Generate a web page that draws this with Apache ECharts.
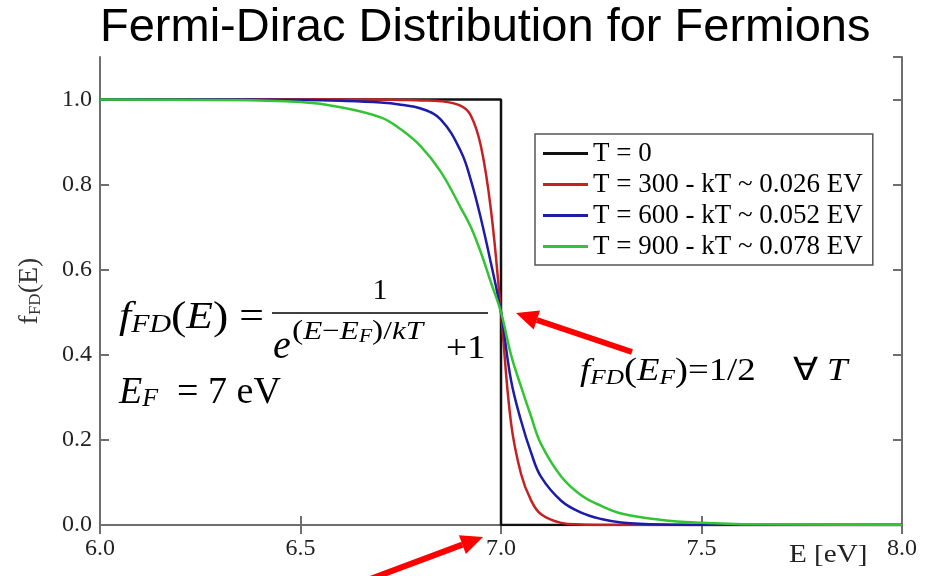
<!DOCTYPE html>
<html>
<head>
<meta charset="utf-8">
<script src="https://cdn.jsdelivr.net/npm/echarts@6/dist/echarts.min.js"></script>
<style>
  html, body { margin: 0; padding: 0; background: #fff; }
  #chart { width: 931px; height: 576px; }
</style>
</head>
<body>
<div id="chart"></div>
<script>
var energy = [6.0, 6.3, 6.5, 6.6, 6.7, 6.75, 6.8, 6.85, 6.9, 6.925, 6.95, 6.975, 7.0,
              7.025, 7.05, 7.075, 7.1, 7.15, 7.2, 7.25, 7.3, 7.4, 7.5, 7.6, 8.0];

var fT300 = [1, 1, 1, 1, 1, 0.999, 0.998, 0.996, 0.985, 0.962, 0.89, 0.74, 0.5,
             0.24, 0.12, 0.058, 0.025, 0.005, 0.001, 0, 0, 0, 0, 0, 0];
var fT600 = [1, 1, 0.999, 0.997, 0.993, 0.988, 0.979, 0.953, 0.878, 0.81, 0.72, 0.615, 0.5,
             0.34, 0.245, 0.17, 0.113, 0.057, 0.029, 0.014, 0.006, 0.001, 0, 0, 0];
var fT900 = [1, 0.999, 0.994, 0.982, 0.958, 0.93, 0.89, 0.83, 0.745, 0.7, 0.64, 0.57, 0.5,
             0.4, 0.325, 0.255, 0.19, 0.114, 0.07, 0.045, 0.027, 0.012, 0.005, 0.002, 0];

// T = 0 step
var stepE = [6.0, 7.0, 7.0, 8.0];
var stepF = [1, 1, 0, 0];

var seriesNames = ['T = 0', 'T = 300 - kT ~ 0.026 EV', 'T = 600 - kT ~ 0.052 EV', 'T = 900 - kT ~ 0.078 EV'];
var seriesColors = ['#111111', '#c42222', '#1c1ca8', '#33c433'];

var SERIF = 'Liberation Serif';

function pairs(xs, ys) {
  return xs.map(function (x, i) { return [x, ys[i]]; });
}

function arrow(tail, tip) {
  var dx = tip[0] - tail[0], dy = tip[1] - tail[1];
  var len = Math.sqrt(dx * dx + dy * dy);
  var ux = dx / len, uy = dy / len;
  var head = 22, half = 10;
  var bx = tip[0] - ux * head, by = tip[1] - uy * head;
  return [
    { type: 'line', shape: { x1: tail[0], y1: tail[1], x2: bx, y2: by },
      style: { stroke: '#ff0000', lineWidth: 6 }, z: 100 },
    { type: 'polygon',
      shape: { points: [tip, [bx - uy * half, by + ux * half], [bx + uy * half, by - ux * half]] },
      style: { fill: '#ff0000' }, z: 100 }
  ];
}

var mathRich = {
  i: { fontFamily: SERIF, fontStyle: 'italic', fontSize: 38, color: '#000' },
  p: { fontFamily: SERIF, fontSize: 40, color: '#000' },
  n: { fontFamily: SERIF, fontSize: 38, color: '#000' },
  s: { fontFamily: SERIF, fontStyle: 'italic', fontSize: 26, color: '#000', verticalAlign: 'bottom' }
};
var supRich = {
  i: { fontFamily: SERIF, fontStyle: 'italic', fontSize: 26, color: '#000' },
  p: { fontFamily: SERIF, fontSize: 28, color: '#000' },
  n: { fontFamily: SERIF, fontSize: 26, color: '#000' },
  s: { fontFamily: SERIF, fontStyle: 'italic', fontSize: 18, color: '#000', verticalAlign: 'bottom' }
};
var eqRich = {
  i: { fontFamily: SERIF, fontStyle: 'italic', fontSize: 32, color: '#000' },
  p: { fontFamily: SERIF, fontSize: 34, color: '#000' },
  n: { fontFamily: SERIF, fontSize: 32, color: '#000' },
  s: { fontFamily: SERIF, fontStyle: 'italic', fontSize: 22, color: '#000', verticalAlign: 'bottom' }
};

var graphics = [
  // f_FD(E) = 1 / (e^((E-E_F)/kT) + 1)
  { type: 'text', x: 119, y: 318, scaleX: 1.15, z: 50,
    style: { text: '{i|f}{s|FD}{p|(}{i|E}{p|)}{n| =}', rich: mathRich, verticalAlign: 'middle' } },
  { type: 'line', shape: { x1: 272, y1: 313, x2: 488, y2: 313 }, style: { stroke: '#000', lineWidth: 1.5 }, z: 50 },
  { type: 'text', x: 380, y: 291, z: 50,
    style: { text: '1', font: '30px "Liberation Serif"', fill: '#000', align: 'center', verticalAlign: 'middle' } },
  { type: 'text', x: 273, y: 347, z: 50,
    style: { text: 'e', font: 'italic 40px "Liberation Serif"', fill: '#000', verticalAlign: 'middle' } },
  { type: 'text', x: 292, y: 332, scaleX: 1.2, z: 50,
    style: { text: '{p|(}{i|E}{n|\u2212}{i|E}{s|F}{p|)}{n|/}{i|kT}', rich: supRich, verticalAlign: 'middle' } },
  { type: 'text', x: 446, y: 349, scaleX: 1.1, z: 50,
    style: { text: '+1', font: '34px "Liberation Serif"', fill: '#000', verticalAlign: 'middle' } },
  // E_F = 7 eV
  { type: 'text', x: 119, y: 393, z: 50,
    style: { text: '{i|E}{s|F}{n|  = 7 eV}', rich: mathRich, verticalAlign: 'middle' } },
  // f_FD(E_F) = 1/2 for all T
  { type: 'text', x: 580, y: 372, scaleX: 1.15, z: 50,
    style: { text: '{i|f}{s|FD}{p|(}{i|E}{s|F}{p|)}{n|=1/2    \u2200 }{i|T}', rich: eqRich, verticalAlign: 'middle' } },
  // x axis title
  { type: 'text', x: 789, y: 555, scaleX: 1.12, z: 50,
    style: { text: 'E [eV]', font: '26px "Liberation Serif"', fill: '#222', verticalAlign: 'middle' } }
].concat(arrow([632, 352], [516, 313]), arrow([330, 594], [483, 537]));

var axisLineStyle = { color: '#6e6e6e', width: 2 };

var option = {
  animation: false,
  backgroundColor: '#fff',
  title: {
    text: 'Fermi-Dirac Distribution for Fermions',
    left: 95, top: 0,
    textStyle: { fontFamily: 'Liberation Sans', fontSize: 47, fontWeight: 'normal', color: '#000' }
  },
  legend: {
    orient: 'vertical',
    left: 535, top: 134,
    data: seriesNames,
    icon: 'rect',
    itemWidth: 45, itemHeight: 3, itemGap: 4,
    padding: [6, 10, 5, 8],
    backgroundColor: '#fff',
    borderColor: '#555', borderWidth: 1.5,
    textStyle: { fontFamily: SERIF, fontSize: 27, color: '#000' }
  },
  grid: { left: 100, right: 29, top: 57, bottom: 51 },
  xAxis: [{
    type: 'value', min: 6, max: 8, interval: 0.5, position: 'bottom',
    axisLine: { show: true, lineStyle: axisLineStyle },
    axisTick: { show: true, inside: true, length: 9, lineStyle: axisLineStyle },
    axisLabel: { color: '#222', fontFamily: SERIF, fontSize: 24, margin: 12,
      formatter: function (v) { return v.toFixed(1); } },
    splitLine: { show: false }
  }, {
    type: 'value', min: 6, max: 8, interval: 0.5, position: 'top',
    axisLine: { show: true, lineStyle: axisLineStyle },
    axisTick: { show: true, inside: true, length: 9, lineStyle: axisLineStyle },
    axisLabel: { show: false },
    splitLine: { show: false }
  }],
  yAxis: [{
    type: 'value', min: 0, max: 1.1, interval: 0.2, position: 'left',
    name: '{f|f}{s|FD}{p|(E)}',
    nameLocation: 'middle', nameGap: 56, nameRotate: 90,
    nameTextStyle: {
      rich: {
        f: { fontFamily: SERIF, fontSize: 28, color: '#333' },
        s: { fontFamily: SERIF, fontSize: 17, color: '#333', verticalAlign: 'bottom' },
        p: { fontFamily: SERIF, fontSize: 28, color: '#333' }
      }
    },
    axisLine: { show: true, lineStyle: axisLineStyle },
    axisTick: { show: true, inside: true, length: 9, lineStyle: axisLineStyle },
    axisLabel: { color: '#222', fontFamily: SERIF, fontSize: 24, margin: 8, showMaxLabel: false,
      formatter: function (v) { return v.toFixed(1); } },
    splitLine: { show: false }
  }, {
    type: 'value', min: 0, max: 1.1, interval: 0.2, position: 'right',
    axisLine: { show: true, lineStyle: axisLineStyle },
    axisTick: { show: true, inside: true, length: 9, lineStyle: axisLineStyle },
    axisLabel: { show: false },
    splitLine: { show: false }
  }],
  series: [
    { name: seriesNames[0], type: 'line', data: pairs(stepE, stepF), showSymbol: false,
      color: seriesColors[0], lineStyle: { width: 2.5, color: seriesColors[0] }, z: 2 },
    { name: seriesNames[1], type: 'line', data: pairs(energy, fT300), showSymbol: false, smooth: 0.4,
      color: seriesColors[1], lineStyle: { width: 2.5, color: seriesColors[1] }, z: 3 },
    { name: seriesNames[2], type: 'line', data: pairs(energy, fT600), showSymbol: false, smooth: 0.4,
      color: seriesColors[2], lineStyle: { width: 2.5, color: seriesColors[2] }, z: 4 },
    { name: seriesNames[3], type: 'line', data: pairs(energy, fT900), showSymbol: false, smooth: 0.4,
      color: seriesColors[3], lineStyle: { width: 2.5, color: seriesColors[3] }, z: 5 }
  ],
  graphic: graphics
};

var chart = echarts.init(document.getElementById('chart'), null, { renderer: 'canvas' });
chart.setOption(option);
</script>
</body>
</html>
